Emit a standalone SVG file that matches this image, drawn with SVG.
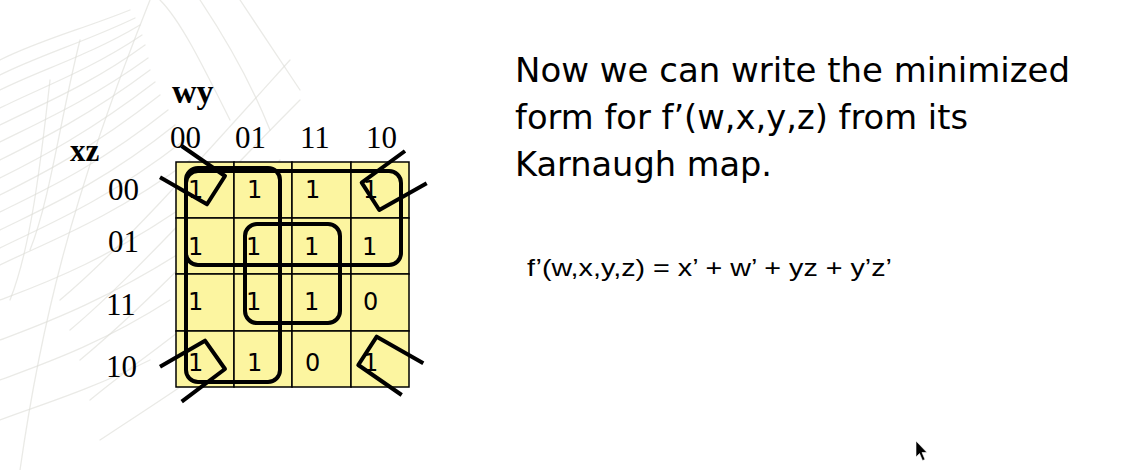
<svg xmlns="http://www.w3.org/2000/svg" width="1138" height="470" viewBox="0 0 1138 470">
<defs>
<style>
.bg{fill:#ffffff}
.feather path{fill:none;stroke:#dcdcd6;stroke-width:1.3;stroke-linecap:round;opacity:0.6}
.cell{fill:#fcf5a0;stroke:#000;stroke-width:1.5}
.hdr{font-family:"Liberation Serif","Times New Roman",serif;font-size:31px;fill:#000}
.var{font-family:"Liberation Serif","Times New Roman",serif;font-weight:bold;fill:#000}
.val{font-family:"DejaVu Sans","Verdana",sans-serif;font-size:24px;fill:#000}
.loop{fill:none;stroke:#000;stroke-width:4;stroke-linejoin:round;stroke-linecap:butt}
.title{font-family:"DejaVu Sans","Verdana",sans-serif;font-size:34px;fill:#000}
.formula{font-family:"Liberation Sans","Arial",sans-serif;font-size:24px;fill:#000}
</style>
</defs>
<rect class="bg" x="0" y="0" width="1138" height="470"/>
<g id="feather" class="feather">
<path d="M20,470 C40,330 70,200 150,0"/>
<path d="M0,60 C40,40 80,30 130,10"/>
<path d="M0,75 C40,55 85,42 135,18"/>
<path d="M0,90 C40,70 90,55 140,25"/>
<path d="M0,108 C40,88 90,70 142,35"/>
<path d="M0,125 C40,105 90,85 145,45"/>
<path d="M0,142 C40,122 90,100 148,58"/>
<path d="M0,160 C40,140 90,115 150,70"/>
<path d="M0,178 C40,158 90,132 155,82"/>
<path d="M0,195 C40,175 90,150 160,95"/>
<path d="M0,212 C40,192 95,168 168,110"/>
<path d="M0,230 C40,210 100,185 175,125"/>
<path d="M0,248 C40,228 105,202 182,142"/>
<path d="M0,265 C40,245 110,220 190,160"/>
<path d="M0,300 C40,285 110,260 200,195"/>
<path d="M0,340 C40,325 110,300 200,240"/>
<path d="M0,380 C40,365 100,345 170,300"/>
<path d="M0,420 C40,405 90,390 150,360"/>
<path d="M60,300 C120,250 200,160 290,60"/>
<path d="M70,330 C130,280 210,190 300,100"/>
<path d="M80,360 C140,310 220,230 280,160"/>
<path d="M90,400 C150,350 230,300 260,260"/>
<path d="M100,440 C160,400 210,370 240,340"/>
<path d="M160,0 C180,20 200,60 230,120"/>
<path d="M200,0 C220,30 250,80 270,130"/>
<path d="M240,0 C260,30 280,60 300,90"/>
<path d="M30,250 C50,200 60,120 80,40"/>
<path d="M10,300 C30,250 40,170 50,80"/>
</g>
<g id="kmap-grid">
<rect class="cell" x="176" y="162" width="58" height="56"/>
<rect class="cell" x="234" y="162" width="58" height="56"/>
<rect class="cell" x="292" y="162" width="59" height="56"/>
<rect class="cell" x="351" y="162" width="58" height="56"/>
<rect class="cell" x="176" y="218" width="58" height="56"/>
<rect class="cell" x="234" y="218" width="58" height="56"/>
<rect class="cell" x="292" y="218" width="59" height="56"/>
<rect class="cell" x="351" y="218" width="58" height="56"/>
<rect class="cell" x="176" y="274" width="58" height="57"/>
<rect class="cell" x="234" y="274" width="58" height="57"/>
<rect class="cell" x="292" y="274" width="59" height="57"/>
<rect class="cell" x="351" y="274" width="58" height="57"/>
<rect class="cell" x="176" y="331" width="58" height="56"/>
<rect class="cell" x="234" y="331" width="58" height="56"/>
<rect class="cell" x="292" y="331" width="59" height="56"/>
<rect class="cell" x="351" y="331" width="58" height="56"/>
</g>
<g id="labels">
<text class="var" x="172" y="103" font-size="34">wy</text>
<text class="var" x="70" y="161" font-size="31">xz</text>
<text class="hdr" x="170" y="148">00</text>
<text class="hdr" x="235" y="148">01</text>
<text class="hdr" x="300" y="148">11</text>
<text class="hdr" x="366" y="148">10</text>
<text class="hdr" x="108" y="200">00</text>
<text class="hdr" x="108" y="252">01</text>
<text class="hdr" x="106" y="315">11</text>
<text class="hdr" x="106" y="377">10</text>
</g>
<g id="values">
<text class="val" x="188" y="198">1</text>
<text class="val" x="247" y="198">1</text>
<text class="val" x="305" y="198">1</text>
<text class="val" x="363" y="198">1</text>
<text class="val" x="188" y="255">1</text>
<text class="val" x="246" y="255">1</text>
<text class="val" x="304" y="255">1</text>
<text class="val" x="362" y="255">1</text>
<text class="val" x="188" y="310">1</text>
<text class="val" x="246" y="310">1</text>
<text class="val" x="304" y="310">1</text>
<text class="val" x="363" y="310">0</text>
<text class="val" x="188" y="371">1</text>
<text class="val" x="247" y="371">1</text>
<text class="val" x="305" y="371">0</text>
<text class="val" x="363" y="371">1</text>
</g>
<g id="groupings">
<rect id="loop-xprime" class="loop" x="186" y="168" width="94" height="214" rx="12"/>
<rect id="loop-wprime" class="loop" x="186" y="171" width="215" height="94" rx="12"/>
<rect id="loop-yz" class="loop" x="245" y="224" width="95" height="99" rx="12"/>
<polyline id="corner-tl" class="loop" points="181.7,146 225,176 207,204.3 160,177.3"/>
<polyline id="corner-tr" class="loop" points="405,151 361.7,182.7 379.3,210 426.7,183.3"/>
<polyline id="corner-bl" class="loop" points="160,366.7 205,340.7 225,369 181.7,401.7"/>
<polyline id="corner-br" class="loop" points="423.3,363.3 376.7,336.7 358.3,365 401.7,395"/>
</g>
<g id="description">
<text class="title" x="515" y="82" textLength="555" lengthAdjust="spacingAndGlyphs">Now we can write the minimized</text>
<text class="title" x="515" y="129" textLength="453" lengthAdjust="spacingAndGlyphs">form for f’(w,x,y,z) from its</text>
<text class="title" x="515" y="176" textLength="257" lengthAdjust="spacingAndGlyphs">Karnaugh map.</text>
</g>
<g id="result">
<text class="formula" x="527" y="276" textLength="365" lengthAdjust="spacingAndGlyphs">f’(w,x,y,z) = x’ + w’ + yz + y’z’</text>
</g>
<g id="cursor">
<polygon points="916,441 916,457 919.5,453.5 922.5,460.5 925,459.5 922,452.5 927,452.5" fill="#000" stroke="#fff" stroke-width="0.6"/>
</g>
</svg>
